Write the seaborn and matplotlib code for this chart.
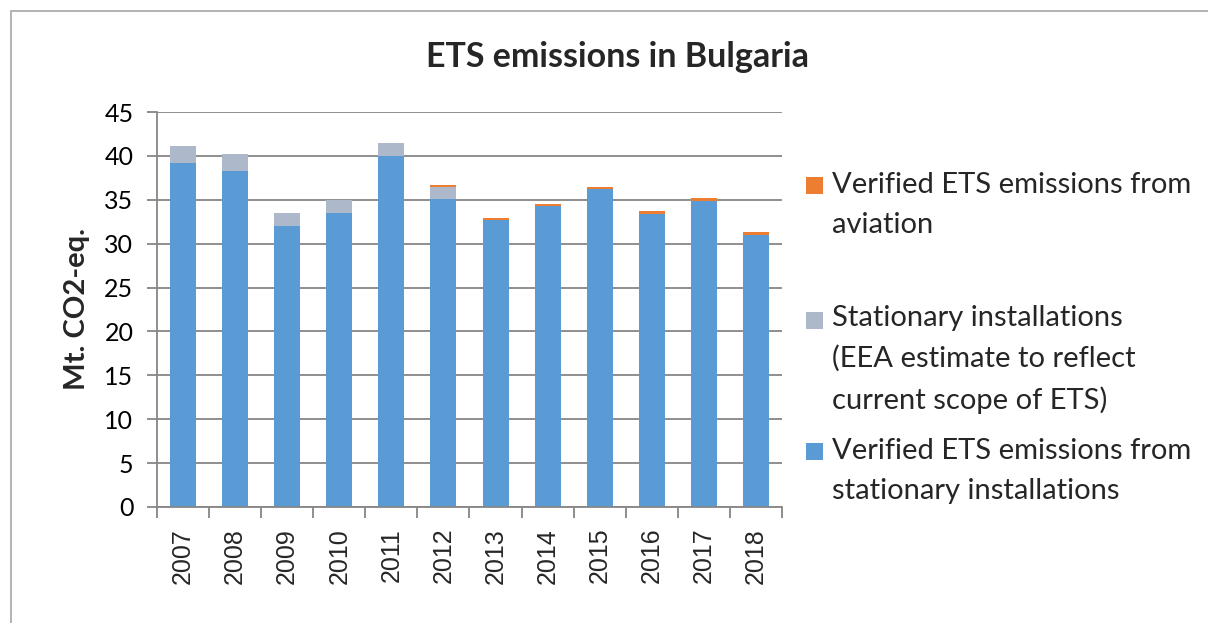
import matplotlib
matplotlib.use("Agg")
import matplotlib.pyplot as plt
import seaborn as sns
import pandas as pd
from matplotlib.patches import Rectangle
from matplotlib.legend_handler import HandlerPatch

# ---------------- data ----------------
years = ["2007", "2008", "2009", "2010", "2011", "2012",
         "2013", "2014", "2015", "2016", "2017", "2018"]
verified_stationary = [39.2, 38.3, 32.0, 33.5, 40.0, 35.1, 32.7, 34.3, 36.2, 33.4, 34.9, 31.0]
eea_estimate = [1.9, 1.9, 1.55, 1.5, 1.45, 1.35, 0, 0, 0, 0, 0, 0]
aviation = [0, 0, 0, 0, 0, 0.27, 0.27, 0.27, 0.3, 0.3, 0.3, 0.3]

label_aviation = "Verified ETS emissions from\naviation"
label_estimate = "Stationary installations\n(EEA estimate to reflect\ncurrent scope of ETS)"
label_verified = "Verified ETS emissions from\nstationary installations"
title = "ETS emissions in Bulgaria"
ylabel = "Mt. CO2-eq."
yticks = [0, 5, 10, 15, 20, 25, 30, 35, 40, 45]

c_blue = "#5B9BD5"
c_gray = "#ADB9CA"
c_orange = "#ED7D31"
c_grid = "#868686"

# ---------------- style ----------------
sns.set_theme(style="white")
plt.rcParams['font.family'] = ['Lato', 'DejaVu Sans']

W, H = 1208, 623
fig = plt.figure(figsize=(W / 100, H / 100), dpi=100)
ax = fig.add_axes([157 / W, 1 - 507 / H, (782 - 157) / W, (507 - 112) / H])

df = pd.DataFrame({
    "year": years,
    "stationary": verified_stationary,
    "estimate": eea_estimate,
    "aviation": aviation,
})
df["lvl2"] = df["stationary"] + df["estimate"]
df["lvl3"] = df["lvl2"] + df["aviation"]

for col, color in [("lvl3", c_orange), ("lvl2", c_gray), ("stationary", c_blue)]:
    sns.barplot(data=df, x="year", y=col, color=color, saturation=1, width=0.5,
                ax=ax, edgecolor="none", linewidth=0)

ax.set_xlim(-0.5, len(years) - 0.5)
ax.set_ylim(0, 45)
ax.set_yticks(yticks)
ax.yaxis.grid(True, color=c_grid, linewidth=1.3)
ax.xaxis.grid(False)
ax.set_axisbelow(True)

for s in ["top", "right"]:
    ax.spines[s].set_visible(False)
for s in ["left", "bottom"]:
    ax.spines[s].set_color(c_grid)
    ax.spines[s].set_linewidth(1.3)

ax.tick_params(axis="y", which="major", left=True, length=7, width=1.3, color=c_grid,
               labelsize=18, pad=10, labelcolor="black")
ax.tick_params(axis="x", which="major", bottom=False, length=0, labelsize=18, pad=15,
               labelrotation=90)
for t in ax.get_xticklabels():
    t.set_family(["Liberation Sans", "DejaVu Sans"])
ax.set_xticks([i - 0.5 for i in range(len(years) + 1)], minor=True)
ax.tick_params(axis="x", which="minor", bottom=True, length=8, width=1.3, color=c_grid)

ax.set_xlabel("")
ax.set_ylabel(ylabel, fontsize=21, fontweight="bold")
ax.yaxis.set_label_coords(-0.108, 0.5)

fig.text(618 / W, 1 - 67 / H, title, ha="center", va="baseline", fontsize=24.5,
         fontweight="bold")

# chart border
fig.patches.append(Rectangle((11 / W, -0.2), 1.2, 1 - 11 / H + 0.2, transform=fig.transFigure,
                             fill=False, edgecolor="#a6a6a6", linewidth=1.2, clip_on=False))

# ---------------- legend ----------------
class TopSquareHandler(HandlerPatch):
    def __init__(self, nlines, pitch, side):
        super().__init__()
        self.nlines = nlines
        self.pitch = pitch
        self.side = side

    def create_artists(self, legend, orig_handle, xdescent, ydescent, width, height,
                       fontsize, trans):
        cy = -ydescent + height / 2 + (self.nlines - 1) / 2 * self.pitch
        p = Rectangle((-xdescent, cy - self.side / 2), self.side, self.side,
                      facecolor=orig_handle.get_facecolor(), edgecolor="none", transform=trans)
        return [p]

conts = ax.containers
h_orange = conts[0].patches[0]
h_gray = conts[1].patches[0]
h_blue = conts[2].patches[0]

fs = 21
pitch = 39 * 0.72
side = 17 * 0.72
entries = [(h_orange, label_aviation, 2, 172),
           (h_gray, label_estimate, 3, 305),
           (h_blue, label_verified, 2, 438)]
for h, lab, n, ytop in entries:
    leg = fig.legend([h], [lab], loc="upper left", bbox_to_anchor=(806 / W, 1 - ytop / H),
                     frameon=False, borderpad=0, borderaxespad=0, fontsize=fs,
                     handlelength=side / fs, handletextpad=(832 - 806 - 17) * 0.72 / fs,
                     handler_map={h: TopSquareHandler(n, pitch, side)})
    for t in leg.get_texts():
        t.set_linespacing(1.65)

fig.savefig("out.png", dpi=100)
